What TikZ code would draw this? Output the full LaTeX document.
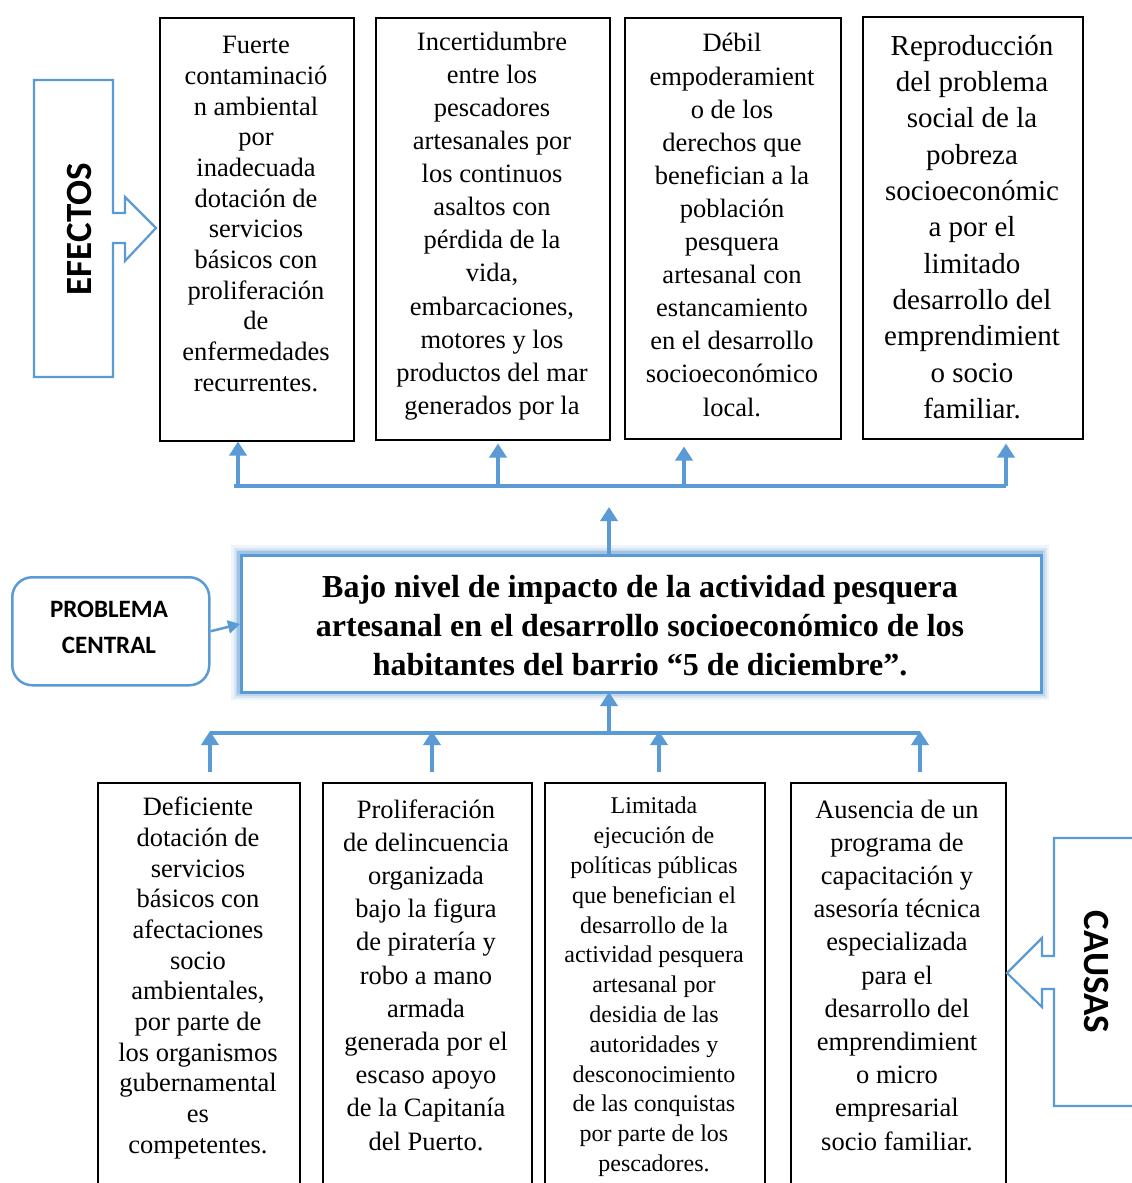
\documentclass[tikz,border=0pt]{standalone}
\usepackage{fontspec}
\setmainfont{Liberation Serif}
\newfontfamily\calfont{Carlito}
\usetikzlibrary{arrows.meta,calc}
\definecolor{bl}{RGB}{91,155,213}
\tikzset{
  box/.style={draw=black,line width=1.5pt,fill=white,inner sep=0,anchor=north west},
  txt/.style={align=center,inner sep=0,anchor=center},
  arr/.style={draw=bl,line width=4pt,-{Triangle[width=17pt,length=14pt]}},
  bus/.style={draw=bl,line width=4pt},
  bigarrow/.style={draw=bl,line width=2.2pt,line join=miter},
}
\newcommand{\fsA}{\fontsize{26.5}{30.7}\selectfont}
\newcommand{\fsB}{\fontsize{26.5}{33.1}\selectfont}
\begin{document}
\begin{tikzpicture}[x=1pt,y=-1pt]
\clip (0,0) rectangle (1132,1183);
\fill[white] (0,0) rectangle (1132,1183);

% ---------- effects ----------
\node[box,minimum width=194pt,minimum height=423pt] (e1) at (159,17) {};
\node[txt,font=\fsA] (t1) at (256,214) {Fuerte\\contaminació\\n ambiental\\por\\inadecuada\\dotación de\\servicios\\básicos con\\proliferación\\de\\enfermedades\\recurrentes.};
\node[box,minimum width=234pt,minimum height=422pt] (e2) at (375,17) {};
\node[txt,font=\fsB] (t2) at (492,226) {Incertidumbre\\entre los\\pescadores\\artesanales por\\los continuos\\asaltos con\\pérdida de la\\vida,\\embarcaciones,\\motores y los\\productos del mar\\generados por la};
\node[box,minimum width=216pt,minimum height=421pt] (e3) at (624,17) {};
\node[txt,font=\fsB] (t3) at (732,225) {Débil\\empoderamient\\o de los\\derechos que\\benefician a la\\población\\pesquera\\artesanal con\\estancamiento\\en el desarrollo\\socioeconómico\\local.};
\node[box,minimum width=220pt,minimum height=422pt] (e4) at (862,16) {};
\node[txt,font=\fontsize{29}{36.3}\selectfont] (t4) at (972,227) {Reproducción\\del problema\\social de la\\pobreza\\socioeconómic\\a por el\\limitado\\desarrollo del\\emprendimient\\o socio\\familiar.};

% ---------- causes ----------
\node[box,minimum width=202pt,minimum height=420pt] (c1) at (97,782) {};
\node[txt,font=\fsA] (u1) at (198,978) {Deficiente\\dotación de\\servicios\\básicos con\\afectaciones\\socio\\ambientales,\\por parte de\\los organismos\\gubernamental\\es\\competentes.};
\node[box,minimum width=209pt,minimum height=420pt] (c2) at (322,782) {};
\node[txt,font=\fontsize{26.5}{33.2}\selectfont] (u2) at (426,975) {Proliferación\\de delincuencia\\organizada\\bajo la figura\\de piratería y\\robo a mano\\armada\\generada por el\\escaso apoyo\\de la Capitanía\\del Puerto.};
\node[box,minimum width=220pt,minimum height=420pt] (c3) at (544,782) {};
\node[txt,font=\fontsize{24}{29.8}\selectfont] (u3) at (654,987) {Limitada\\ejecución de\\políticas públicas\\que benefician el\\desarrollo de la\\actividad pesquera\\artesanal por\\desidia de las\\autoridades y\\desconocimiento\\de las conquistas\\por parte de los\\pescadores.};
\node[box,minimum width=215pt,minimum height=420pt] (c4) at (790,782) {};
\node[txt,font=\fontsize{26.5}{33.2}\selectfont] (u4) at (897,975) {Ausencia de un\\programa de\\capacitación y\\asesoría técnica\\especializada\\para el\\desarrollo del\\emprendimient\\o micro\\empresarial\\socio familiar.};

% ---------- central problem ----------
\foreach \w/\o in {18/0.10,13/0.15,9/0.2,6/0.3}{
  \draw[bl,line width=\w pt,opacity=\o] (240,554) rectangle (1040,691);
}
\node[draw=bl,line width=3pt,fill=white,minimum width=800pt,minimum height=137pt,inner sep=0,anchor=north west] (main) at (240,554) {};
\node[txt,font=\bfseries\fontsize{32}{39}\selectfont] (mt) at (640,626) {Bajo nivel de impacto de la actividad pesquera\\artesanal en el desarrollo socioeconómico de los\\habitantes del barrio “5 de diciembre”.};

\node[draw=bl,line width=2.5pt,rounded corners=20pt,minimum width=197pt,minimum height=108pt,inner sep=0,anchor=north west] (pc) at (11,576) {};
\node[txt,font=\calfont\bfseries\fontsize{25}{36}\selectfont] (pct) at (109,627) {PROBLEMA\\CENTRAL};
\draw[draw=bl,line width=2.5pt,-{Triangle[width=13pt,length=12pt]}] (pc.east) -- (main.west);

% ---------- top bus ----------
\coordinate (tl) at (234,486);
\coordinate (tr) at (1006,486);
\draw[bus] (tl) -- (tr);
\draw[arr,shorten >=0pt] (238,486) -- (238,0 |- e1.south);
\draw[arr] (498,486) -- ($(498,0 |- e2.south)+(0,3)$);
\draw[arr] (684,486) -- ($(684,0 |- e3.south)+(0,7)$);
\draw[arr] (tr) -- ($(1006,0 |- e4.south)+(0,4)$);
\coordinate (mup) at (609,507);
\draw[arr] (609,0 |- main.north) -- (mup);

% ---------- bottom bus ----------
\coordinate (bl0) at (210,733);
\coordinate (br0) at (920,733);
\draw[bus] (bl0) -- (br0);
\draw[arr] (609,733) -- ($(609,0 |- main.south)+(0,-2)$);
\foreach \x/\n in {210/1,432/2,659/3,920/4}{
  \coordinate (s\n) at (\x,772);
  \draw[arr] (s\n) -- (\x,731);
}

% ---------- EFECTOS arrow ----------
\draw[bigarrow] (34,80) -- (113,80) -- (113,213) -- (125,213) -- (125,197) -- (156,228) -- (125,261) -- (125,243) -- (113,243) -- (113,377) -- (34,377) -- cycle;
\node[txt,rotate=90,font=\calfont\bfseries\fontsize{37}{40}\selectfont] (ef) at (79,229) {EFECTOS};

% ---------- CAUSAS arrow ----------
\draw[bigarrow] (1140,838) -- (1054,838) -- (1054,956) -- (1042,956) -- (1042,938) -- (1007,973) -- (1042,1007) -- (1042,989) -- (1054,989) -- (1054,1106) -- (1140,1106);
\node[txt,rotate=-90,font=\calfont\bfseries\fontsize{37}{40}\selectfont] (ca) at (1096,972) {CAUSAS};
\end{tikzpicture}
\end{document}
